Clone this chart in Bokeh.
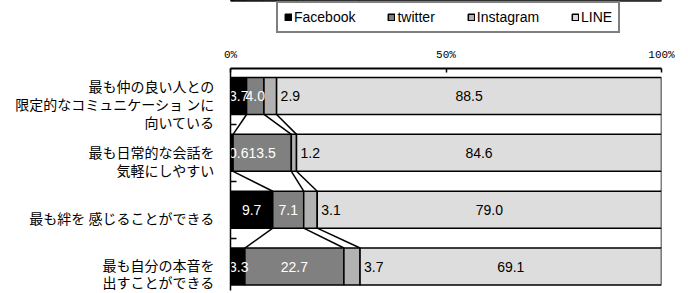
from bokeh.plotting import figure
from bokeh.models import Range1d, FixedTicker, Legend, LegendItem
from bokeh.layouts import column
from bokeh.core.properties import value
from bokeh.embed import file_html
from bokeh.resources import INLINE

category_lines = [
    ["最も仲の良い人との", "限定的なコミュニケーショ ンに", "向いている"],
    ["最も日常的な会話を", "気軽にしやすい"],
    ["最も絆を 感じることができる"],
    ["最も自分の本音を", "出すことができる"],
]
series_names = ["Facebook", "twitter", "Instagram", "LINE"]
facebook = [3.7, 0.6, 9.7, 3.3]
twitter = [4.0, 13.5, 7.1, 22.7]
instagram = [2.9, 1.2, 3.1, 3.7]
line_app = [88.5, 84.6, 79.0, 69.1]
x_ticks = [0, 50, 100]
x_tick_labels = ["0%", "50%", "100%"]

colors = ["#000000", "#808080", "#B2B2B2", "#DDDDDD"]
label_colors = ["white", "white", "black", "black"]
BAR_H = 0.65
LINE_STEP = 0.317     # category-label line spacing, in category units
LABEL_SHIFT = 0.14    # category labels sit slightly below bar centres
MIN_LABEL_X = 1.9     # keep first-segment labels inside the plot area

rows = list(range(len(category_lines)))
series_values = [facebook, twitter, instagram, line_app]
totals = [sum(s[i] for s in series_values) for i in rows]
pct = [[s[i] / totals[i] * 100 for i in rows] for s in series_values]

lefts, rights = [], []
cum = [0.0] * len(rows)
for s in pct:
    l = cum[:]
    r = [cum[i] + s[i] for i in rows]
    lefts.append(l)
    rights.append(r)
    cum = r

p = figure(width=680, height=255, x_range=Range1d(0, 100), y_range=Range1d(3.422, -0.484),
           output_backend="svg", toolbar_location=None, x_axis_location="above",
           min_border_left=230, min_border_right=19, min_border_top=32, min_border_bottom=1)
p.outline_line_color = None
p.xgrid.visible = False
p.ygrid.visible = False

# series lines between bars
xs0, ys0, xs1, ys1 = [], [], [], []
for i in rows[:-1]:
    for k in range(len(series_values)):
        xs0.append(rights[k][i]); ys0.append(i + BAR_H / 2)
        xs1.append(rights[k][i + 1]); ys1.append(i + 1 - BAR_H / 2)
p.segment(x0=xs0, y0=ys0, x1=xs1, y1=ys1, line_color="black", line_width=1.5)

for k, name in enumerate(series_names):
    p.hbar(y=rows, left=lefts[k], right=rights[k], height=BAR_H,
           fill_color=colors[k], line_color="black", line_width=1.5)

for k, name in enumerate(series_names):
    vals = series_values[k]
    if name == "Instagram":
        xs = rights[k]
        align = "left"
        xoff = 4
    else:
        xs = [(lefts[k][i] + rights[k][i]) / 2 for i in rows]
        if k == 0:
            xs = [max(x, MIN_LABEL_X) for x in xs]
        align = "center"
        xoff = 0
    p.text(x=xs, y=rows, text=[f"{v:.1f}" for v in vals], text_align=align,
           text_baseline="middle", x_offset=xoff, text_color=label_colors[k],
           text_font=value("Liberation Sans"), text_font_size="14px")

# y axis: one tick per label line
tick_pos, overrides = [], {}
for i, lines in zip(rows, category_lines):
    n = len(lines)
    for j, txt in enumerate(lines):
        y = round(i + LABEL_SHIFT + (j - (n - 1) / 2) * LINE_STEP, 4)
        tick_pos.append(y)
        overrides[y] = txt

yax = p.yaxis[0]
yax.ticker = FixedTicker(ticks=tick_pos, minor_ticks=[0.5, 1.5, 2.5])
yax.major_label_overrides = overrides
yax.major_tick_in = 0
yax.major_tick_out = 0
yax.minor_tick_in = 6
yax.minor_tick_out = 0
yax.minor_tick_line_color = "black"
yax.minor_tick_line_width = 1.5
yax.axis_line_color = "black"
yax.axis_line_width = 1.5
yax.major_label_standoff = 16
yax.major_label_text_font = "Noto Sans CJK JP"
yax.major_label_text_font_size = "14px"
yax.major_label_text_color = "black"

# x axis (top)
xax = p.xaxis[0]
xax.ticker = FixedTicker(ticks=x_ticks, minor_ticks=[])
xax.major_label_overrides = {t: l for t, l in zip(x_ticks, x_tick_labels)}
xax.major_tick_in = 4
xax.major_tick_out = 0
xax.major_tick_line_color = "black"
xax.major_tick_line_width = 1.5
xax.axis_line_color = "black"
xax.axis_line_width = 2
xax.major_label_standoff = 8
xax.major_label_text_font = "Liberation Mono"
xax.major_label_text_font_size = "11px"
xax.major_label_text_color = "black"

# legend in its own strip above the chart (proxy bars kept out of view)
lf = figure(width=680, height=36, x_range=Range1d(0, 100), y_range=Range1d(-10, -9),
            output_backend="svg", toolbar_location=None, title=None,
            x_axis_location=None, y_axis_location=None,
            min_border_left=230, min_border_right=19, min_border_top=0, min_border_bottom=0)
lf.outline_line_color = None
lf.grid.visible = False
leg_renderers = []
for k, name in enumerate(series_names):
    r = lf.hbar(y=rows, left=lefts[k], right=rights[k], height=BAR_H,
                fill_color=colors[k], line_color="black", line_width=1.5)
    leg_renderers.append(r)

legend = Legend(items=[LegendItem(label=n, renderers=[r]) for n, r in zip(series_names, leg_renderers)],
                orientation="horizontal", location=(46, 3))
legend.border_line_color = "black"
legend.border_line_width = 2
legend.background_fill_color = "white"
legend.background_fill_alpha = 1
legend.label_text_font = "Liberation Sans"
legend.label_text_font_size = "14px"
legend.label_text_color = "black"
legend.label_height = 16
legend.glyph_width = 8
legend.glyph_height = 8
legend.label_standoff = 2
legend.spacing = 32
legend.padding = 6
legend.margin = 0
lf.add_layout(legend, "center")

layout = column(lf, p, spacing=0)
open("out.html", "w").write(file_html(layout, INLINE))
